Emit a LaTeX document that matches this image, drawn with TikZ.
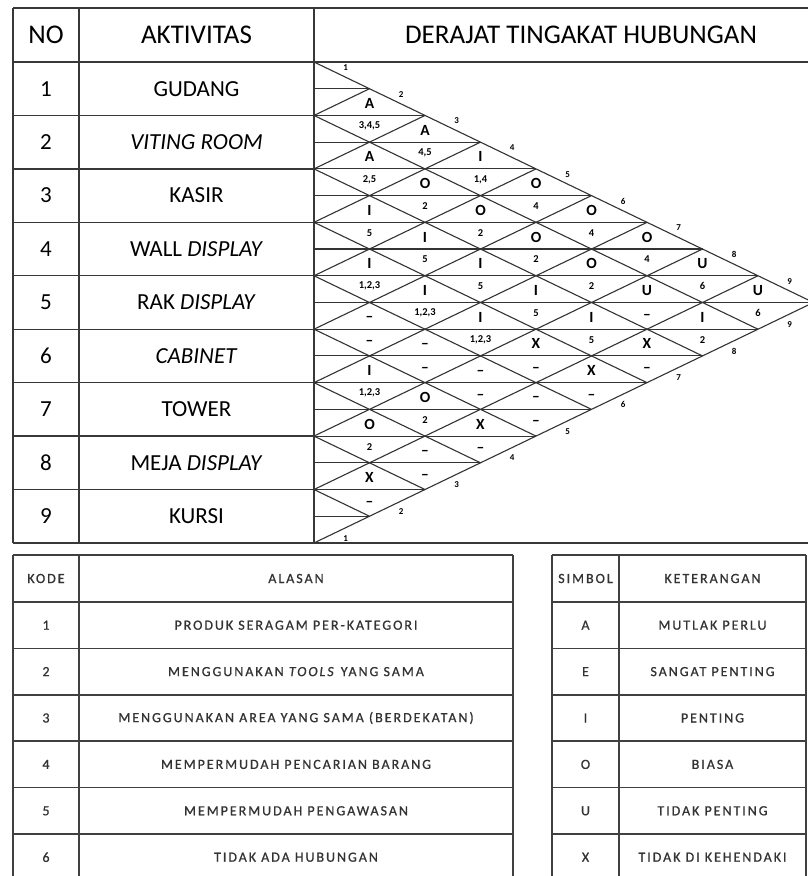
\documentclass[tikz,border=0pt]{standalone}
\usepackage{fontspec}
\setmainfont{Carlito}
\newfontfamily\legfont[LetterSpace=14,FakeBold=0.8]{Carlito}
\tikzset{
  tbl/.style={draw=black!78, line width=1.4pt},
  gridln/.style={draw=black!80, line width=1.1pt},
  ltbl/.style={draw=black!75, line width=1.6pt},
  hdr/.style={font=\fontsize{27}{30}\selectfont, inner sep=0pt},
  act/.style={font=\fontsize{23}{26}\selectfont, inner sep=0pt},
  sym/.style={font=\bfseries\fontsize{15.5}{17}\selectfont, inner sep=0pt},
  rsn/.style={font=\bfseries\fontsize{10.5}{12}\selectfont, inner sep=0pt},
  edgelbl/.style={font=\bfseries\fontsize{9}{10}\selectfont, inner sep=0pt},
  leg/.style={font=\legfont\fontsize{14}{16}\selectfont, text=black!80, inner sep=0pt},
}
\def\xa{314}\def\ya{62}\def\hh{26.72}\def\ww{55.5}\def\rh{53.44}
\def\dsh{–}
\newcommand\pr[4]{%
  \pgfmathsetmacro\cx{\xa+(#2-#1)*\ww}%
  \pgfmathsetmacro\cy{\ya+(#1+#2-1)*\hh}%
  \def\tS{#3}\def\tR{#4}%
  \ifx\tS\dsh \def\oS{-10}\else\def\oS{-12}\fi
  \ifx\tR\dsh \def\oR{14}\tikzset{rstyle/.style={sym}}\else\def\oR{10.5}\tikzset{rstyle/.style={rsn}}\fi
  \node[sym] (s#1#2) at (\cx,\cy+\oS) {#3};
  \node[rstyle] (r#1#2) at (\cx,\cy+\oR) {#4};
}
\begin{document}
\begin{tikzpicture}[x=1pt,y=-1pt]
\useasboundingbox (0,0) rectangle (808,876);
\clip (0,0) rectangle (808,876);
\fill[white] (0,0) rectangle (808,876);

% ---- main table frame
\draw[tbl] (13,8) -- (808,8);
\draw[tbl] (13,62) -- (808,62);
\draw[tbl] (13,543) -- (808,543);
\draw[tbl] (13,8) -- (13,543);
\draw[tbl] (79,8) -- (79,543);
\draw[tbl] (314,8) -- (314,543);
\foreach \k in {1,...,8} {
  \draw[tbl] (13,{62+\k*\rh}) -- (314,{62+\k*\rh});
}

% ---- relationship grid
\draw[gridln] (\xa,\ya) -- ({\xa+9*\ww},{\ya+9*\hh}) -- (\xa,{\ya+18*\hh});
\foreach \k in {1,...,8} {
  \draw[gridln] ({\xa+\k*\ww},{\ya+\k*\hh}) -- (\xa,{\ya+2*\k*\hh}) -- ({\xa+(9-\k)*\ww},{\ya+(9+\k)*\hh});
}
\foreach \j in {1,...,17} {
  \pgfmathsetmacro\m{min(\j,18-\j)}
  \draw[gridln] (\xa,{\ya+\j*\hh}) -- ({\xa+\m*\ww},{\ya+\j*\hh});
}

% ---- edge numbers
\foreach \k in {1,...,9} {
  \node[edgelbl] (t\k) at ({\xa+(\k-0.5)*\ww+4},{\ya+(\k-0.5)*\hh-8}) {\k};
  \node[edgelbl] (b\k) at ({\xa+(\k-0.5)*\ww+4},{\ya+(18.5-\k)*\hh+8.5}) {\k};
}

% ---- headers
\node[hdr] (hno) at (46,35) {NO};
\node[hdr] (hact) at (196.5,35) {AKTIVITAS};
\node[hdr] (hder) at (581,35) {DERAJAT TINGAKAT HUBUNGAN};

% ---- activities
\foreach \k/\t in {1/GUDANG, 2/\textit{VITING ROOM}, 3/KASIR, 4/WALL \textit{DISPLAY}, 5/RAK \textit{DISPLAY}, 6/\textit{CABINET}, 7/TOWER, 8/MEJA \textit{DISPLAY}, 9/KURSI} {
  \node[act] (n\k) at (46,{62+(\k-0.5)*\rh}) {\k};
  \node[act] (a\k) at (196.5,{62+(\k-0.5)*\rh}) {\t};
}

% ---- pairs
\pr{1}{2}{A}{3,4,5}
\pr{1}{3}{A}{4,5}
\pr{1}{4}{I}{1,4}
\pr{1}{5}{O}{4}
\pr{1}{6}{O}{4}
\pr{1}{7}{O}{4}
\pr{1}{8}{U}{6}
\pr{1}{9}{U}{6}
\pr{2}{3}{A}{2,5}
\pr{2}{4}{O}{2}
\pr{2}{5}{O}{2}
\pr{2}{6}{O}{2}
\pr{2}{7}{O}{2}
\pr{2}{8}{U}{–}
\pr{2}{9}{I}{2}
\pr{3}{4}{I}{5}
\pr{3}{5}{I}{5}
\pr{3}{6}{I}{5}
\pr{3}{7}{I}{5}
\pr{3}{8}{I}{5}
\pr{3}{9}{X}{–}
\pr{4}{5}{I}{1,2,3}
\pr{4}{6}{I}{1,2,3}
\pr{4}{7}{I}{1,2,3}
\pr{4}{8}{X}{–}
\pr{4}{9}{X}{–}
\pr{5}{6}{–}{–}
\pr{5}{7}{–}{–}
\pr{5}{8}{–}{–}
\pr{5}{9}{–}{–}
\pr{6}{7}{I}{1,2,3}
\pr{6}{8}{O}{2}
\pr{6}{9}{X}{–}
\pr{7}{8}{O}{2}
\pr{7}{9}{–}{–}
\pr{8}{9}{X}{–}

% ---- legend table 1
\draw[ltbl] (13,555) -- (513,555);
\draw[ltbl] (13,555) -- (13,900);
\draw[ltbl] (79,555) -- (79,900);
\draw[ltbl] (513,555) -- (513,900);
\foreach \y in {602,648.4,694.8,741.2,787.6,834} {
  \draw[ltbl] (13,\y) -- (513,\y);
}
\node[leg] (lk) at (46,578.5) {KODE};
\node[leg] (la) at (296,578.5) {ALASAN};
\foreach \k/\t in {1/PRODUK SERAGAM PER-KATEGORI, 2/MENGGUNAKAN \textit{TOOLS} YANG SAMA, 3/MENGGUNAKAN AREA YANG SAMA (BERDEKATAN), 4/MEMPERMUDAH PENCARIAN BARANG, 5/MEMPERMUDAH PENGAWASAN, 6/TIDAK ADA HUBUNGAN} {
  \node[leg] (lk\k) at (46,{602+(\k-0.5)*46.4}) {\k};
  \node[leg] (la\k) at (296,{602+(\k-0.5)*46.4}) {\t};
}

% ---- legend table 2
\draw[ltbl] (552,555) -- (806,555);
\draw[ltbl] (552,555) -- (552,900);
\draw[ltbl] (619,555) -- (619,900);
\draw[ltbl] (806,555) -- (806,900);
\foreach \y in {602,648.4,694.8,741.2,787.6,834} {
  \draw[ltbl] (552,\y) -- (806,\y);
}
\node[leg] (ls) at (585.5,578.5) {SIMBOL};
\node[leg] (lt) at (712.5,578.5) {KETERANGAN};
\foreach \k/\s/\t in {1/A/MUTLAK PERLU, 2/E/SANGAT PENTING, 3/I/PENTING, 4/O/BIASA, 5/U/TIDAK PENTING, 6/X/TIDAK DI KEHENDAKI} {
  \node[leg] (ls\k) at (585.5,{602+(\k-0.5)*46.4}) {\s};
  \node[leg] (lt\k) at (712.5,{602+(\k-0.5)*46.4}) {\t};
}
\end{tikzpicture}
\end{document}
